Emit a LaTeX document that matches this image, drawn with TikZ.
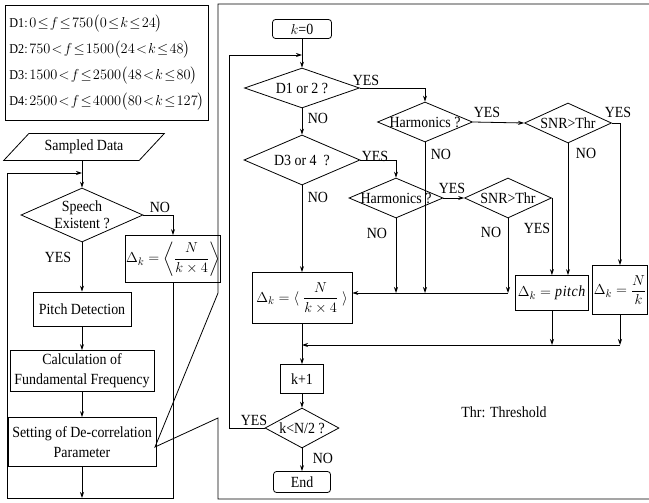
\documentclass[tikz,border=0pt]{standalone}
\usepackage{amsmath}
\usepackage{fontspec}
\setmainfont{Liberation Serif}[FakeStretch=0.9]
\usetikzlibrary{arrows.meta, shapes.geometric}

\begin{document}
\begin{tikzpicture}[x=1pt, y=-1pt, line width=0.8pt,
    font=\fontsize{15.5}{20}\selectfont,
    box/.style={draw, rectangle, inner sep=1pt, align=center},
    rbox/.style={box, rounded corners=3pt},
    dia/.style={draw, diamond, aspect=2.5, inner sep=-2pt, align=center},
    lbl/.style={inner sep=0pt},
    arr/.style={-{Stealth[length=6pt, width=4pt]}}
]
\useasboundingbox (0,0) rectangle (649,503);
\clip (0,0) rectangle (649,503);

% frequency bands
\node[draw, anchor=north west, minimum width=203pt, minimum height=115pt, inner xsep=3pt,
      align=left, font={\fontsize{13.5}{26}\selectfont\thickmuskip=1.5mu}] (bands) at (5,5)
  {D1$:0\le f\le 750\bigl(0\le k\le 24\bigr)$\\
   D2$:750< f\le 1500\bigl(24<k\le 48\bigr)$\\
   D3$:1500< f\le 2500\bigl(48<k\le 80\bigr)$\\
   D4$:2500< f\le 4000\bigl(80<k\le 127\bigr)$};

% left flow
\node[draw, trapezium, trapezium left angle=47, trapezium right angle=133,
      minimum height=27pt, inner xsep=3pt] (sampled) at (84,147) {Sampled Data};
\node[dia, minimum width=122pt, minimum height=54pt,
      font=\fontsize{15.5}{17}\selectfont] (speech) at (82,215) {Speech\\Existent ?};
\node[box, minimum width=84pt, minimum height=47pt] (dleft) at (173,259)
  {$\Delta_k=\left\langle\dfrac{N}{k\times 4}\right\rangle$};
\node[box, minimum width=98pt, minimum height=34pt] (pitch) at (82,309) {Pitch Detection};
\node[box, minimum width=144pt, minimum height=41pt] (calc) at (82,371) {Calculation of\\Fundamental Frequency};
\node[box, minimum width=148pt, minimum height=49pt] (setting) at (82,442) {Setting of De-correlation\\Parameter};

\node[lbl] (noleft) at (160,207) {NO};
\node[lbl] (yesleft) at (58,257) {YES};

\coordinate (lcorner) at (7,498);
\coordinate (ltop) at (82,173);
\draw[arr] (sampled.south -| speech) -- (speech);
\draw[arr] (speech.east) -| (dleft.north);
\draw[arr] (speech) -- (pitch);
\draw[arr] (pitch) -- (calc);
\draw[arr] (calc) -- (setting);
\draw[arr] (setting) -- (setting |- lcorner);
\draw[arr] (dleft) |- (lcorner) |- (ltop);

% detail of the de-correlation setting
\coordinate (tip) at (155,447);
\draw (218,293) -- (tip) -- (218,418) -- (218,499) -- (660,499) -- (660,4) -- (218,4) -- cycle;

\node[rbox, minimum width=59pt, minimum height=19pt] (k0) at (302,29) {$k$=0};
\node[dia, minimum width=115pt, minimum height=40pt] (d12) at (302,88) {D1 or 2 ?};
\node[dia, minimum width=116pt, minimum height=50pt] (d34) at (302,160) {D3 or 4\ \ ?};
\node[dia, minimum width=95pt, minimum height=40pt] (harm1) at (425,122) {Harmonics ?};
\node[dia, minimum width=87pt, minimum height=40pt] (snr1) at (568,123) {SNR>Thr};
\node[dia, minimum width=94pt, minimum height=40pt] (harm2) at (396,198) {Harmonics ?};
\node[dia, minimum width=87pt, minimum height=40pt] (snr2) at (508,198) {SNR>Thr};
\node[box, minimum width=100pt, minimum height=51pt] (dright) at (302,298)
  {$\Delta_k=\langle\;\dfrac{N}{k\times 4}\;\rangle$};
\node[box, minimum width=73pt, minimum height=35pt] (pitchval) at (552,293) {$\Delta_k=\mathit{pitch}$};
\node[box, minimum width=54pt, minimum height=49pt] (nk) at (620,290) {$\Delta_k=\dfrac{N}{k}$};
\node[box, minimum width=43pt, minimum height=29pt] (kplus) at (302,379) {k+1};
\node[dia, minimum width=74pt, minimum height=40pt] (kless) at (302,428) {k<N/2 ?};
\node[rbox, minimum width=57pt, minimum height=21pt] (stop) at (302,482) {End};
\node[lbl] (thr) at (504,412) {Thr: Threshold};

\node[lbl] (yes12) at (366,80) {YES};
\node[lbl] (no12) at (318,118) {NO};
\node[lbl] (yes34) at (375,156) {YES};
\node[lbl] (no34) at (318,197) {NO};
\node[lbl] (yesh1) at (487,112) {YES};
\node[lbl] (noh1) at (441,154) {NO};
\node[lbl] (yess1) at (618,112) {YES};
\node[lbl] (nos1) at (586,153) {NO};
\node[lbl] (yesh2) at (452,188) {YES};
\node[lbl] (noh2) at (377,233) {NO};
\node[lbl] (yess2) at (537,228) {YES};
\node[lbl] (nos2) at (491,232) {NO};
\node[lbl] (yesk) at (254,420) {YES};
\node[lbl] (nok) at (323,458) {NO};

\coordinate (rloop) at (229,55);
\coordinate (join1) at (0,293);
\coordinate (join2) at (0,345);
\draw[arr] (k0) -- (d12);
\draw[arr] (d12.east) -| (harm1.north);
\draw[arr] (d12) -- (d34);
\draw[arr] (d34.east) -| (harm2.north);
\draw[arr] (d34) -- (dright);
\draw[arr] (harm1.east) -- (snr1.west);
\draw[arr] (harm2.east) -- (snr2.west);
\draw[arr] (harm1.south) -- (harm1 |- join1);
\draw[arr] (harm2.south) -- (harm2 |- join1);
\draw[arr] (snr2.south) -- (snr2 |- join1);
\draw[arr] (snr2 |- join1) -- (dright.east |- join1);
\draw[arr] (snr2.east) -- (snr2.east |- pitchval.north);
\draw[arr] (snr1.south) -- (snr1 |- pitchval.north);
\draw[arr] (snr1.east) -| (nk.north);
\draw[arr] (pitchval) -- (pitchval |- join2);
\draw[arr] (nk) -- (nk |- join2);
\draw[arr] (nk |- join2) -- (dright |- join2);
\draw[arr] (dright) -- (kplus);
\draw[arr] (kplus) -- (kless);
\draw[arr] (kless) -- (stop);
\draw[arr] (kless.west) -| (rloop) -- (k0 |- rloop);
\end{tikzpicture}
\end{document}
